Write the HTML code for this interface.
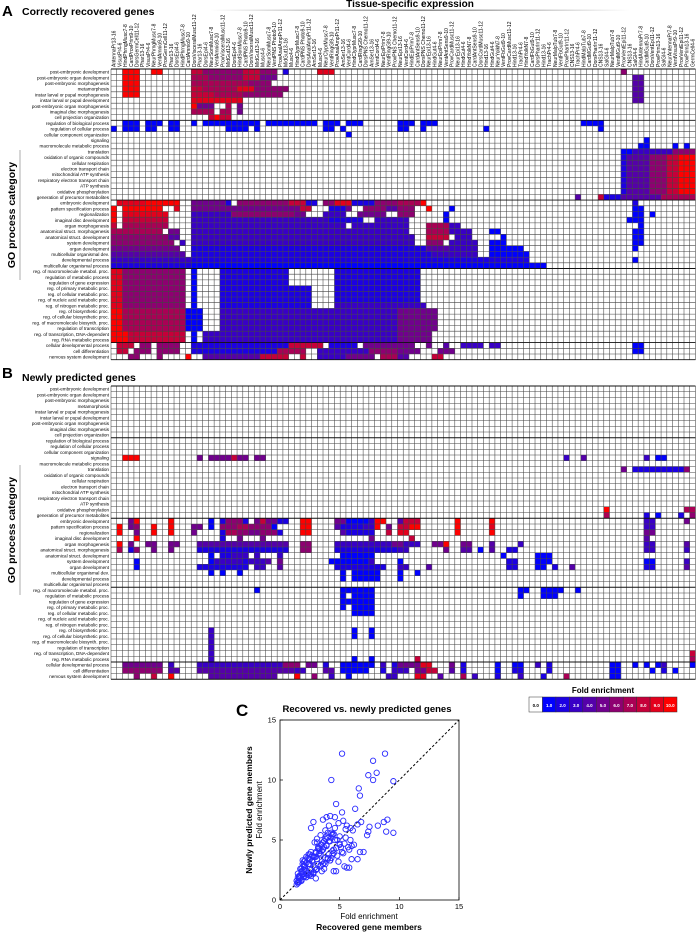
<!DOCTYPE html>
<html><head><meta charset="utf-8"><style>
body{margin:0;background:#fff;}
svg{display:block;font-family:"Liberation Sans",Arial,sans-serif;}
</style></head><body>
<svg id="fig" width="697" height="934" viewBox="0 0 697 934" xmlns="http://www.w3.org/2000/svg">
<text x="2" y="16" font-size="15" font-weight="bold">A</text>
<text x="22" y="15" font-size="10.5" font-weight="bold">Correctly recovered genes</text>
<defs><linearGradient id="ul" x1="0" x2="1"><stop offset="0" stop-color="#fff"/><stop offset="0.5" stop-color="#888"/><stop offset="1" stop-color="#fff"/></linearGradient></defs>
<text x="410" y="7" font-size="10" font-weight="bold" text-anchor="middle">Tissue-specific expression</text>
<rect x="210" y="9.5" width="420" height="1.5" fill="url(#ul)"/>
<text transform="translate(15,215) rotate(-90)" font-size="10.5" font-weight="bold" text-anchor="middle">GO process category</text>
<line x1="20" y1="150" x2="20" y2="280" stroke="#999" stroke-width="0.8"/>
<text x="2" y="378" font-size="15" font-weight="bold">B</text>
<text x="22" y="381" font-size="10.5" font-weight="bold">Newly predicted genes</text>
<text transform="translate(15,530) rotate(-90)" font-size="10.5" font-weight="bold" text-anchor="middle">GO process category</text>
<line x1="20" y1="465" x2="20" y2="595" stroke="#999" stroke-width="0.8"/>
<g id="hmA"></g>
<g id="hmB"></g>
<g id="colbar"></g>
<text x="236" y="716" font-size="17" font-weight="bold">C</text>
<text x="367" y="712" font-size="9.5" font-weight="bold" text-anchor="middle">Recovered vs. newly predicted genes</text>
<g id="sc"></g>
</svg>
<script>
const rowLabels=["post-embryonic development","post-embryonic organ development","post-embryonic morphogenesis","metamorphosis","instar larval or pupal morphogenesis","instar larval or pupal development","post-embryonic organ morphogenesis","imaginal disc morphogenesis","cell projection organization","regulation of biological process","regulation of cellular process","cellular component organization","signaling","macromolecule metabolic process","translation","oxidation of organic compounds","cellular respiration","electron transport chain","mitochondrial ATP synthesis","respiratory electron transport chain","ATP synthesis","oxidative phosphorylation","generation of precursor metabolites","embryonic development","pattern specification process","regionalization","imaginal disc development","organ morphogenesis","anatomical struct. morphogenesis","anatomical struct. development","system development","organ development","multicellular organismal dev.","developmental process","multicellular organismal process","reg. of macromolecule metabol. proc.","regulation of metabolic process","regulation of gene expression","reg. of primary metabolic proc.","reg. of cellular metabolic proc.","reg. of nucleic acid metabolic proc.","reg. of nitrogen metabolic proc.","reg. of biosynthetic proc.","reg. of cellular biosynthetic proc.","reg. of macromolecule biosynth. proc.","regulation of transcription","reg. of transcription, DNA-dependent","reg. RNA metabolic process","cellular developmental process","cell differentiation","nervous system development"];
const tissues=["AntennaPr","AnalAmpPr","FbGut","Phar","PNS Chemo","MGut","MidGut","CardMusc","VisusPr","AmSer","PharIrr","DorsEpi","NeurEpi","VentEpi","Musc","Hind","PhrngMusc","VentCord","CNS","SomMusc","HindGut","ProvPrim","ClyprMusc","TrachPr","Amnio","EpiPrim","SalGl","PNS Photo","YolkN","GermCell","RingGl","MalpTub","VisceralMusc","AntSens"];
const prefixes=["","Neur","Dors","","Vent","","Hind","Prov","","Card"];
const stages=["9-10","13-16","7-8","11-12","4-6"];
const colLabels=[];for(let i=0;i<102;i++){colLabels.push(prefixes[(i*3)%prefixes.length]+tissues[(i*7+i%3)%tissues.length]+stages[(i*3+1)%5]);}
const runsA=[
[0,2,4,10],[0,7,8,10],[0,14,15,8],[0,16,22,6],[0,23,25,8],[0,26,28,6],[0,30,30,2],[0,36,38,9],[0,89,89,6],
[1,2,4,10],[1,14,16,7],[1,17,22,6],[1,23,25,8],[1,26,28,5],[1,91,92,4],
[2,2,4,10],[2,14,16,7],[2,17,23,7],[2,24,27,6],[2,91,92,4],
[3,2,4,10],[3,14,15,8],[3,16,21,7],[3,22,24,9],[3,25,30,6],[3,91,92,4],
[4,2,4,10],[4,14,17,8],[4,18,22,7],[4,23,29,6],[4,91,92,4],
[5,14,22,9],[5,91,92,4],
[6,14,14,10],[6,15,17,5],[6,20,20,7],[6,22,22,5],
[7,14,17,7],[7,19,20,7],[7,22,22,5],
[8,17,17,8],[8,18,18,10],[8,19,20,8],
[9,2,4,1],[9,6,8,1],[9,10,11,1],[9,14,14,1],[9,16,25,1],[9,27,35,1],[9,37,39,1],[9,41,43,1],[9,50,52,1],[9,54,56,1],[9,82,85,1],
[10,0,0,1],[10,2,4,1],[10,6,7,1],[10,10,11,1],[10,20,23,1],[10,25,25,1],[10,37,38,1],[10,40,40,1],[10,50,51,1],[10,54,54,1],[10,65,65,1],[10,85,85,1],
[11,41,41,1],[12,93,93,1],[13,92,93,1],[13,98,98,1],[13,100,100,1],
[14,89,90,1],[14,91,97,3],[14,98,101,6],
[15,89,89,2],[15,90,93,4],[15,94,96,6],[15,97,98,8],[15,99,101,10],
[16,89,89,2],[16,90,93,4],[16,94,96,6],[16,97,98,8],[16,99,101,10],
[17,89,89,2],[17,90,93,4],[17,94,96,6],[17,97,98,8],[17,99,101,10],
[18,89,89,2],[18,90,93,4],[18,94,96,6],[18,97,98,8],[18,99,101,10],
[19,89,89,2],[19,90,93,4],[19,94,96,6],[19,97,98,8],[19,99,101,10],
[20,89,89,2],[20,90,93,4],[20,94,96,6],[20,97,98,8],[20,99,101,10],
[21,89,89,2],[21,90,93,4],[21,94,96,6],[21,97,98,8],[21,99,101,10],
[22,81,81,4],[22,85,85,8],[22,86,88,2],[22,89,95,4],[22,96,101,7],
[23,1,5,9],[23,6,11,10],[23,14,19,5],[23,20,20,2],[23,22,30,6],[23,31,33,8],[23,34,35,2],[23,37,38,6],[23,39,41,9],[23,42,45,2],[23,46,49,6],[23,50,53,7],[23,54,54,10],[23,91,91,2],
[24,0,0,10],[24,2,8,10],[24,11,11,9],[24,14,32,5],[24,33,34,8],[24,38,40,2],[24,41,41,5],[24,44,47,6],[24,48,49,4],[24,50,52,6],[24,55,55,10],[24,59,59,1],[24,91,92,1],
[25,0,0,10],[25,2,9,9],[25,14,20,3],[25,21,31,6],[25,32,33,5],[25,37,40,3],[25,43,47,5],[25,50,52,6],[25,58,58,1],[25,91,92,1],[25,94,94,1],
[26,0,0,10],[26,2,9,8],[26,14,37,3],[26,38,43,2],[26,46,49,3],[26,50,51,3],[26,58,58,1],[26,90,92,1],
[27,0,0,8],[27,2,9,7],[27,14,40,3],[27,42,49,3],[27,50,51,3],[27,55,58,7],[27,59,60,3],[27,92,92,1],
[28,0,8,7],[28,10,11,5],[28,14,49,3],[28,50,51,3],[28,55,58,7],[28,59,62,3],[28,66,67,1],[28,91,92,1],
[29,0,9,6],[29,10,11,4],[29,14,49,3],[29,50,52,3],[29,55,58,8],[29,60,62,3],[29,68,68,1],[29,91,92,1],
[30,0,10,6],[30,12,12,3],[30,14,49,3],[30,50,52,3],[30,55,57,6],[30,59,63,3],[30,66,68,1],[30,91,92,1],
[31,0,11,5],[31,14,49,2],[31,50,54,2],[31,55,58,4],[31,59,63,3],[31,66,71,1],[31,91,91,1],
[32,0,12,4],[32,14,49,2],[32,50,55,2],[32,56,63,3],[32,66,72,1],
[33,0,13,3],[33,14,72,2],[33,91,91,1],
[34,0,13,2],[34,14,75,1],
[35,0,1,9],[35,2,12,6],[35,14,14,1],[35,19,30,2],[35,39,53,2],
[36,0,1,9],[36,2,12,6],[36,14,14,1],[36,19,30,2],[36,39,53,2],
[37,0,1,9],[37,2,12,6],[37,14,14,1],[37,19,30,2],[37,39,53,2],
[38,0,1,9],[38,2,12,6],[38,14,14,1],[38,19,34,2],[38,39,53,2],
[39,0,1,9],[39,2,12,6],[39,14,14,1],[39,19,34,2],[39,39,53,2],
[40,0,1,9],[40,2,12,6],[40,14,14,1],[40,19,34,2],[40,39,53,2],
[41,0,1,9],[41,2,12,6],[41,14,14,1],[41,19,34,2],[41,39,54,3],
[42,0,1,10],[42,2,12,7],[42,13,15,1],[42,19,49,3],[42,50,56,5],
[43,0,1,10],[43,2,12,7],[43,13,15,1],[43,19,49,3],[43,50,56,5],
[44,0,1,10],[44,2,12,7],[44,13,15,1],[44,19,49,3],[44,50,56,5],
[45,0,1,10],[45,2,12,7],[45,13,15,1],[45,19,49,3],[45,50,56,5],
[46,0,2,10],[46,3,12,8],[46,14,14,1],[46,16,49,3],[46,50,55,5],
[47,0,2,10],[47,3,12,8],[47,14,14,1],[47,16,49,3],[47,50,55,5],
[48,1,3,8],[48,5,6,6],[48,8,11,6],[48,14,30,2],[48,31,36,8],[48,38,42,2],[48,44,49,5],[48,50,52,5],[48,55,55,5],[48,58,58,4],[48,61,64,3],[48,66,67,3],[48,91,92,1],
[49,1,2,8],[49,4,6,6],[49,8,11,6],[49,14,28,2],[49,29,33,7],[49,36,44,3],[49,45,49,6],[49,50,53,5],[49,57,59,5],[49,91,92,1],
[50,3,4,6],[50,8,8,6],[50,13,13,10],[50,16,25,4],[50,26,30,8],[50,33,33,8],[50,36,40,3],[50,41,45,5],[50,47,49,7],[50,50,51,4],[50,56,57,8]
];
const runsB=[
[12,2,4,10],[12,15,15,5],[12,17,20,5],[12,21,21,8],[12,22,23,5],[12,25,26,5],[12,79,79,3],[12,82,82,4],[12,93,93,3],[12,95,96,1],
[14,89,89,5],[14,91,99,2],[14,100,100,6],
[21,86,86,10],[21,100,101,7],
[22,86,86,7],[22,93,93,2],[22,95,95,1],[22,99,99,2],[22,101,101,6],
[23,3,3,5],[23,4,4,10],[23,10,10,10],[23,17,17,1],[23,19,19,2],[23,20,22,6],[23,23,23,2],[23,25,25,5],[23,26,26,8],[23,27,28,5],[23,29,30,2],[23,33,34,10],[23,39,40,5],[23,41,44,1],[23,45,45,3],[23,46,47,10],[23,50,50,4],[23,51,53,8],[23,60,60,10],[23,66,66,10],[23,93,94,3],[23,100,100,5],
[24,1,1,10],[24,3,3,5],[24,4,4,6],[24,7,7,10],[24,10,10,10],[24,14,15,5],[24,17,17,1],[24,19,21,6],[24,22,23,7],[24,24,27,6],[24,28,28,1],[24,33,34,10],[24,39,39,4],[24,40,43,2],[24,44,45,3],[24,46,46,10],[24,48,48,5],[24,50,51,8],[24,52,53,10],[24,60,60,10],[24,66,66,9],[24,93,94,3],
[25,1,1,10],[25,4,4,5],[25,7,7,10],[25,10,10,10],[25,14,14,5],[25,19,19,2],[25,20,21,7],[25,22,23,6],[25,24,25,5],[25,26,28,6],[25,29,29,2],[25,33,34,10],[25,40,40,4],[25,41,45,2],[25,48,48,8],[25,50,51,9],[25,60,60,10],[25,66,66,10],[25,93,94,5],
[26,4,4,10],[26,19,19,2],[26,22,22,5],[26,26,26,5],[26,45,45,5],[26,52,52,8],[26,93,93,4],
[27,1,1,10],[27,3,3,5],[27,6,7,5],[27,10,11,5],[27,15,30,4],[27,33,34,6],[27,39,48,3],[27,49,50,5],[27,51,53,3],[27,56,57,5],[27,58,58,10],[27,61,62,5],[27,66,66,4],[27,71,71,3],[27,93,94,3],[27,100,100,4],
[28,1,1,7],[28,3,3,2],[28,4,4,6],[28,7,7,5],[28,10,10,5],[28,15,30,2],[28,33,34,6],[28,39,49,2],[28,50,51,3],[28,58,58,5],[28,61,62,4],[28,64,64,1],[28,66,66,4],[28,69,70,2],[28,93,94,3],[28,100,100,3],
[29,17,17,1],[29,19,20,2],[29,21,23,3],[29,25,25,3],[29,29,29,3],[29,40,45,1],[29,68,68,1],[29,74,76,1],
[30,4,4,1],[30,17,17,1],[30,18,22,3],[30,23,23,2],[30,24,26,3],[30,27,27,4],[30,29,29,5],[30,38,38,1],[30,39,44,1],[30,45,45,3],[30,50,50,1],[30,69,70,2],[30,74,76,1],[30,93,94,1],[30,100,100,3],
[31,4,4,1],[31,15,23,2],[31,25,26,3],[31,29,29,4],[31,39,47,2],[31,50,51,3],[31,55,55,4],[31,69,70,2],[31,74,75,1],[31,77,77,2],[31,80,80,4],[31,93,94,2],[31,100,100,4],
[32,17,17,1],[32,19,19,1],[32,22,22,1],[32,40,40,1],[32,42,46,1],[32,50,50,1],[32,53,53,1],
[33,40,40,1],[33,42,46,1],[33,50,50,1],
[35,25,25,1],[35,40,45,1],[35,71,72,1],[35,75,78,1],[35,81,81,1],
[36,40,40,1],[36,42,45,1],[36,71,71,1],[36,75,77,1],
[37,40,45,1],[38,40,40,1],[38,42,45,1],[39,42,45,1],
[42,17,17,3],[42,42,42,1],[42,45,45,1],
[43,17,17,3],[43,42,42,1],[43,45,45,1],
[44,17,17,3],[45,17,17,3],[46,17,17,3],[46,101,101,8],
[47,17,17,3],[47,42,42,1],[47,45,45,1],[47,53,53,8],[47,101,101,7],
[48,2,8,5],[48,10,10,3],[48,15,29,3],[48,30,32,6],[48,34,35,5],[48,37,37,2],[48,40,45,1],[48,47,47,3],[48,49,49,2],[48,50,53,5],[48,54,55,9],[48,59,59,5],[48,61,61,2],[48,67,67,1],[48,70,71,1],[48,74,74,3],[48,76,76,2],[48,87,88,1],[48,91,91,1],[48,93,93,1],[48,95,95,1],[48,96,96,3],[48,101,101,1],
[49,2,8,6],[49,10,11,4],[49,15,31,4],[49,32,33,3],[49,37,38,4],[49,40,44,1],[49,47,47,2],[49,49,51,3],[49,53,54,5],[49,55,56,8],[49,59,59,4],[49,61,61,2],[49,67,67,1],[49,70,71,2],[49,76,76,2],[49,87,88,1],[49,94,94,1],[49,96,96,2],[49,98,98,1],
[50,4,4,6],[50,7,7,8],[50,10,10,10],[50,17,28,4],[50,32,32,10],[50,35,35,6],[50,38,38,3],[50,41,41,1],[50,48,49,3],[50,53,54,9],[50,57,57,4],[50,61,61,7],[50,63,63,3],[50,67,67,2],[50,71,71,3],[50,75,75,2],[50,79,79,7],[50,87,88,1]
];
const legendValues=[0,1,2,3,4,5,6,7,8,9,10];
const legendLabels=["0.0","1.0","2.0","3.0","4.0","5.0","6.0","7.0","8.0","9.0","10.0"];
const recovered=[5.2,8.8,7.8,8.1,7.4,7.8,9.5,4.3,6.6,6.7,4.7,6.3,5.2,9.0,8.7,8.2,8.9,9.5,7.5,7.3,7.4,6.8,6.5,7.0,6.7,6.5,6.0,5.4,5.6,5.8,4.5,4.7,6.0,5.7,2.8,2.6,4.2,4.6,3.9,3.6,5.5,5.9,6.1,5.0,4.8,4.4,4.1,3.8,3.4,3.1,2.9,2.5,2.3,2.1,1.9,1.7,1.5,1.4,1.6,1.8,2.0,2.2,2.4,2.7,3.0,3.3,3.5,3.7,4.0,4.3,4.6,4.9,5.3,5.6,2.0,2.3,2.6,2.9,3.2,3.5,3.8,4.1,4.4,4.7,5.0,1.5,1.7,1.9,2.1,2.4,2.7,3.0,3.3,3.6,3.9,4.2,1.6,1.8,2.2,2.5,2.8,3.1,3.4,3.7,4.0,4.5,5.1,5.4,1.4,1.5,1.6,1.8,2.0,2.2,2.6,3.0,3.4,3.8,4.2,4.8,5.2,5.8,6.2,3.2,3.6,2.8,2.4,2.0,4.4,4.9,3.0,3.5,1.9,2.6,
1.4,1.5,1.7,1.8,2.0,2.1,2.3,2.5,2.7,2.9,3.1,3.3,3.5,3.7,3.9,4.1,4.3,4.5,2.2,2.4,2.6,2.8,3.0,3.2,3.4,3.6,3.8,4.0,4.2,4.4,1.6,1.9,2.2,2.5,2.8,3.1,3.4,3.7,4.0,4.3,4.6,5.0,5.3,5.5,5.9,3.3,3.9,4.5,2.0,1.8];
const predicted=[12.2,12.2,11.6,10.6,10.4,10.0,9.9,10.0,9.3,8.7,8.0,7.6,7.3,6.7,6.5,6.2,5.7,5.6,6.1,5.4,5.7,6.5,6.3,4.0,4.0,3.4,3.4,2.8,2.7,2.7,2.4,2.4,4.5,4.4,6.5,6.0,7.0,6.9,6.9,6.7,5.9,6.0,5.8,5.3,5.0,5.5,6.2,5.8,5.4,5.1,4.8,3.8,3.5,3.3,3.0,2.6,2.2,1.6,1.9,2.4,2.9,3.1,3.4,3.7,4.0,4.3,4.6,4.9,5.2,5.6,6.0,6.4,6.6,6.2,2.0,2.2,2.5,2.7,3.0,3.2,3.5,3.8,4.1,4.3,4.7,1.4,1.8,2.1,2.6,3.0,3.3,3.6,3.9,4.2,4.5,4.9,1.5,1.7,1.9,2.1,2.3,2.6,2.9,3.1,3.4,3.9,4.4,4.7,1.3,1.5,1.8,1.6,1.9,2.4,2.2,2.5,2.8,3.0,3.3,3.7,4.0,4.2,4.6,4.3,4.8,3.6,3.0,2.8,3.8,3.2,1.8,2.4,3.3,2.0,
1.6,1.9,2.0,2.3,2.5,2.8,2.1,3.0,3.2,3.6,3.4,3.9,4.1,4.4,4.6,4.9,5.2,5.5,3.6,3.8,4.0,2.3,3.9,4.4,4.6,3.0,5.1,3.5,3.3,5.4,2.0,2.4,1.9,3.4,2.2,4.8,3.8,2.6,5.6,3.5,5.0,4.6,3.9,5.2,5.0,4.1,5.3,4.2,3.2,2.6];

const NS="http://www.w3.org/2000/svg";
function mk(t,a,p){const e=document.createElementNS(NS,t);for(const k in a)e.setAttribute(k,a[k]);p.appendChild(e);return e;}
function color(v){if(v<=0)return "#ffffff";const t=(v-1)/9;return "rgb("+Math.round(255*t)+",0,"+Math.round(255*(1-t))+")";}
const X0=111,CW=5.73,NC=102,NR=51;
function drawHeat(g,runs,y0,rh,labels){
  const colX=c=>X0+c*CW, rowY=r=>y0+r*rh;
  runs.forEach(([r,c0,c1,v])=>{
    const rc=mk("rect",{x:colX(c0),y:rowY(r),width:(c1-c0+1)*CW,height:rh,fill:color(v)},g);
    
    
  });
  for(let c=0;c<=NC;c++){mk("line",{x1:colX(c),y1:y0,x2:colX(c),y2:rowY(NR),stroke:"#444","stroke-width":0.55},g);}
  for(let r=0;r<=NR;r++){const th=[0,9,23,35,48,51].includes(r);mk("line",{x1:X0,y1:rowY(r),x2:colX(NC),y2:rowY(r),stroke:th?"#111":"#444","stroke-width":th?0.9:0.55},g);}
  rowLabels.forEach((s,r)=>{const t=mk("text",{x:X0-2,y:rowY(r)+rh*0.8,"font-size":4.6,"text-anchor":"end"},g);t.textContent=s;
    
    });
  if(labels){colLabels.forEach((s,c)=>{const t=mk("text",{transform:"translate("+(colX(c)+CW*0.8)+","+(y0-2)+") rotate(-90)","font-size":5},g);t.textContent=s;
    
    });}
}
drawHeat(document.getElementById("hmA"),runsA,69,5.7,true);
drawHeat(document.getElementById("hmB"),runsB,386,5.75,false);

const cb=document.getElementById("colbar");
const lt=mk("text",{x:603,y:693,"font-size":8,"font-weight":"bold","text-anchor":"middle"},cb);lt.textContent="Fold enrichment";
legendValues.forEach((v,i)=>{const w=148/11;const x=529+i*w;
  const r=mk("rect",{x:x,y:697,width:w,height:15,fill:color(v),stroke:"#333","stroke-width":0.5},cb);
  
  
  const t=mk("text",{x:x+w/2,y:707,"font-size":4.5,"font-weight":"bold","text-anchor":"middle",fill:v===0?"#000":"#fff"},cb);t.textContent=legendLabels[i];
  
  });

const sc=document.getElementById("sc");
const PX0=280,PX1=459,PY0=900,PY1=720;
const sx=v=>PX0+(PX1-PX0)*v/15, sy=v=>PY0-(PY0-PY1)*v/15;
mk("rect",{x:PX0,y:PY1,width:PX1-PX0,height:PY0-PY1,fill:"none",stroke:"#000","stroke-width":0.8},sc);
mk("line",{x1:sx(0),y1:sy(0),x2:sx(15),y2:sy(15),stroke:"#000","stroke-width":1,"stroke-dasharray":"2.5,2"},sc);
[0,5,10,15].forEach(v=>{
  mk("line",{x1:sx(v),y1:PY0,x2:sx(v),y2:PY0-3,stroke:"#000","stroke-width":0.7},sc);
  mk("line",{x1:PX0,y1:sy(v),x2:PX0+3,y2:sy(v),stroke:"#000","stroke-width":0.7},sc);
  const tx=mk("text",{x:sx(v),y:909,"font-size":7.5,"text-anchor":"middle"},sc);tx.textContent=v;
  
  
  const ty=mk("text",{x:PX0-4,y:sy(v)+2.5,"font-size":7.5,"text-anchor":"end"},sc);ty.textContent=v;
  
  
});
recovered.forEach((x,i)=>{const c=mk("circle",{cx:sx(x),cy:sy(predicted[i]),r:2.7,fill:"none",stroke:"#2a2aff","stroke-width":0.9},sc);
  
  });
const xl=mk("text",{x:369,y:919,"font-size":8,"text-anchor":"middle"},sc);xl.textContent="Fold enrichment";


const xl2=mk("text",{x:369,y:930,"font-size":8.5,"font-weight":"bold","text-anchor":"middle"},sc);xl2.textContent="Recovered gene members";


const yl=mk("text",{transform:"translate(262,810) rotate(-90)","font-size":8,"text-anchor":"middle"},sc);yl.textContent="Fold enrichment";


const yl2=mk("text",{transform:"translate(252,810) rotate(-90)","font-size":8.5,"font-weight":"bold","text-anchor":"middle"},sc);yl2.textContent="Newly predicted gene members";


</script>
</body></html>
